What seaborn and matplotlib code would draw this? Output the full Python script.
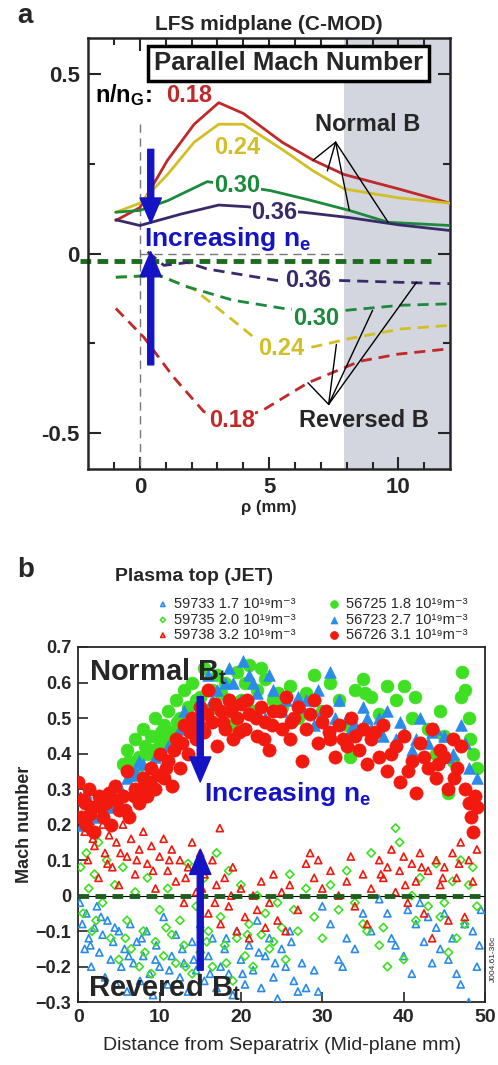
import numpy as np
import pandas as pd
import seaborn as sns
import matplotlib.pyplot as plt

# ---------------- panel a data (C-MOD, LFS midplane) ----------------
rho_n18 = [-0.93, 0.0, 1.07, 2.1, 3.05, 4.0, 5.5, 6.7, 7.9, 10.0, 12.0]
mach_n18 = [0.092, 0.128, 0.26, 0.36, 0.42, 0.39, 0.31, 0.26, 0.22, 0.18, 0.14]
rho_n24 = [-0.93, 0.0, 1.07, 2.1, 3.05, 4.0, 5.5, 6.7, 7.9, 10.0, 12.0]
mach_n24 = [0.115, 0.14, 0.22, 0.31, 0.36, 0.36, 0.29, 0.23, 0.18, 0.155, 0.14]
rho_n30 = [-0.93, 0.0, 1.07, 2.6, 3.7, 5.06, 6.5, 8.1, 9.6, 12.0]
mach_n30 = [0.115, 0.12, 0.147, 0.2, 0.19, 0.175, 0.15, 0.12, 0.087, 0.078]
rho_n36 = [-0.93, 0.0, 1.6, 3.05, 4.2, 5.1, 6.3, 8.1, 10.0, 12.0]
mach_n36 = [0.094, 0.078, 0.11, 0.135, 0.13, 0.12, 0.115, 0.1, 0.08, 0.064]

rho_r18 = [-0.93, 0.15, 1.3, 2.47, 3.5, 4.67, 6.5, 8.5, 10.0, 12.0]
mach_r18 = [-0.153, -0.233, -0.344, -0.44, -0.46, -0.44, -0.36, -0.3, -0.28, -0.265]
rho_r24 = [-0.93, 0.8, 2.1, 3.6, 4.4, 5.44, 6.7, 8.1, 10.1, 12.0]
mach_r24 = [-0.066, -0.062, -0.1, -0.186, -0.233, -0.26, -0.26, -0.237, -0.21, -0.2]
rho_r30 = [-0.93, 0.7, 1.85, 3.6, 5.56, 6.8, 8.0, 10.1, 12.0]
mach_r30 = [-0.066, -0.06, -0.093, -0.13, -0.153, -0.16, -0.158, -0.144, -0.14]
rho_r36 = [0.3, 0.93, 1.85, 2.6, 5.3, 6.5, 7.7, 10.0, 12.0]
mach_r36 = [0.005, -0.033, -0.025, -0.043, -0.075, -0.075, -0.075, -0.08, -0.084]

ratio_labels = ['0.18', '0.24', '0.30', '0.36']
curve_colors = ['#c0282a', '#d2bf25', '#1b8a3c', '#3a2a6a']

# ---------------- panel b data (JET, plasma top) ----------------
# 59733 1.7e19, reversed Bt, open triangles
d59733 = [0.2, 0.5, 0.8, 1, 1.3, 1.6, 2, 2.3, 2.6, 3, 3.3, 3.6, 4, 4.3, 4.7, 5, 5.3, 5.7, 6, 6.4,
          6.8, 7.2, 7.6, 8, 8.4, 8.8, 9.2, 9.6, 10, 10.5, 11, 11.5, 12, 12.5, 13, 13.5, 14, 14.5,
          15, 15.5, 16, 16.5, 17, 17.5, 18, 18.5, 19, 19.5, 20, 20.5, 21, 21.5, 22, 22.5, 23, 23.5,
          24, 24.5, 25, 25.5, 26, 26.5, 27, 27.5, 28, 29, 29.5, 30, 31, 32, 32.5, 33, 34, 35, 36,
          37, 38, 38.5, 39, 40, 40.5, 41, 41.5, 42, 42.5, 43, 43.5, 44, 44.5, 45, 45.5, 46, 46.5,
          47, 47.5, 48, 48.5, 49, 49.3, 49.5,
          1.5, 2.8, 4.5, 6.2, 7.8, 9.5, 11.2, 12.8, 14.2, 16.2, 18.2, 20.2, 22.2, 24.2, 26.2]
m59733 = [-0.02, -0.08, -0.15, -0.05, -0.12, -0.2, -0.09, -0.03, -0.16, -0.11, -0.23, -0.07,
          -0.18, -0.13, -0.25, -0.1, -0.2, -0.15, -0.27, -0.08, -0.19, -0.13, -0.24, -0.17, -0.1,
          -0.22, -0.28, -0.14, -0.2, -0.06, -0.25, -0.17, -0.11, -0.23, -0.19, -0.27, -0.13, -0.21,
          -0.08, -0.24, -0.17, -0.12, -0.26, -0.2, -0.15, -0.22, -0.28, -0.1, -0.18, -0.25, -0.14,
          -0.21, -0.07, -0.26, -0.17, -0.12, -0.23, -0.29, -0.15, -0.2, -0.1, -0.24, -0.27, -0.19,
          -0.26, -0.21, -0.27, -0.03, -0.08, -0.18, -0.2, -0.12, -0.15, -0.05, -0.1, -0.01, -0.05,
          -0.12, -0.14, -0.17, -0.04, -0.22, -0.08, -0.02, -0.13, -0.06, -0.19, -0.09, -0.15,
          -0.05, -0.18, -0.12, -0.22, -0.25, -0.08, -0.3, -0.1, -0.2, -0.14, -0.04,
          -0.14, -0.06, -0.09, -0.17, -0.12, -0.18, -0.21, -0.15, -0.18, -0.22, -0.12, -0.22,
          -0.16, -0.19, -0.13]
# 59735 2.0e19, reversed Bt, open diamonds
d59735 = [0.3, 0.6, 1, 1.3, 1.7, 2, 2.5, 3, 3.5, 4, 4.5, 5, 5.5, 6, 6.5, 7, 7.5, 8, 8.5, 9, 9.5,
          10, 10.5, 11, 11.5, 12, 12.5, 13, 13.5, 14, 14.5, 15, 15.5, 16, 16.5, 17, 17.5, 18, 18.5,
          19, 19.5, 20, 20.5, 21, 21.5, 22, 22.5, 23, 24, 24.5, 25, 25.5, 26, 26.5, 27, 28, 29, 30,
          31, 32, 33, 34, 35, 35.5, 36, 37, 37.5, 38, 39, 39.5, 40, 41, 41.5, 42, 43, 44, 44.5, 45,
          45.5, 46, 46.5, 47, 47.5, 48, 48.5, 49,
          2.2, 5.8, 8.2, 10.8, 13.2, 15.8, 18.2, 20.8, 23.5]
m59735 = [0.08, -0.05, 0.12, 0.02, -0.1, 0.06, 0.15, -0.02, 0.1, -0.12, 0.03, -0.18, 0.08, -0.07,
          -0.15, 0.01, -0.2, -0.1, 0.05, -0.22, -0.13, -0.04, -0.17, 0.02, -0.11, -0.19, -0.07,
          -0.14, 0.09, -0.22, -0.03, -0.16, 0.05, -0.1, -0.2, 0.12, -0.06, -0.14, 0.07, -0.24, -0.12,
          0.03, -0.17, -0.08, -0.2, 0.0, -0.11, -0.05, -0.13, -0.02, -0.09, -0.18, 0.06, -0.04, -0.1,
          0.02, -0.06, -0.12, 0.03, -0.04, 0.07, -0.02, -0.08, -0.1, 0.12, -0.14, -0.09, -0.2, 0.19,
          0.15, -0.18, 0.0, -0.07, 0.05, -0.03, 0.09, -0.06, -0.02, -0.16, 0.04, -0.12, 0.1, -0.08,
          0.03, 0.08, -0.03,
          -0.07, -0.12, -0.16, -0.09, -0.2, -0.13, -0.19, -0.11, -0.15]
# 59738 3.2e19, reversed Bt, open triangles
d59738 = [0.3, 0.8, 1.2, 1.5, 2, 2.5, 3, 3.3, 3.8, 4.2, 4.7, 5, 5.5, 6, 6.5, 7, 7.5, 8, 8.5, 9,
          9.5, 10, 10.5, 11, 11.5, 12, 12.5, 13, 13.5, 14, 14.5, 15, 15.5, 16, 16.5, 17, 17.4, 17.5,
          18, 18.5, 19, 19.5, 20, 20.5, 21, 21.5, 22, 22.5, 23, 23.5, 24, 24.5, 25, 25.5, 26, 27,
          28, 28.5, 29, 29.5, 30, 31, 32, 33, 33.5, 34, 35, 35.5, 36, 37, 37.5, 38, 38.5, 39, 39.5,
          40, 40.5, 41, 41.5, 42, 42.5, 43, 43.5, 44, 44.5, 45, 45.5, 46, 46.5, 47, 47.5, 48, 48.5,
          49,
          1.8, 3.6, 5.2, 7.2, 9.2, 11.2, 13.2, 15.2, 16.8, 18.8, 37.2, 40.2, 42.2, 44.8, 46.8]
m59738 = [0.28, 0.18, 0.1, 0.21, 0.14, 0.05, 0.2, 0.12, 0.17, 0.08, 0.15, 0.03, 0.2, 0.11, 0.16,
          0.06, 0.13, 0.18, 0.09, 0.14, 0.02, 0.11, 0.16, 0.07, 0.13, 0.04, 0.1, -0.02, 0.08, 0.15,
          0.01, 0.12, 0.06, -0.05, 0.1, 0.03, 0.19, -0.08, 0.05, -0.03, 0.08, -0.1, 0.02, -0.06,
          -0.12, 0.0, -0.04, 0.04, -0.09, -0.02, 0.06, -0.07, 0.01, -0.1, 0.03, -0.04, 0.09, 0.12,
          0.05, 0.1, 0.02, 0.07, 0.0, 0.04, 0.11, -0.03, 0.06, -0.08, 0.02, 0.1, 0.05, 0.08, 0.13,
          0.01, 0.07, 0.11, -0.02, 0.09, 0.04, 0.12, -0.05, 0.07, -0.12, 0.1, 0.03, 0.08, -0.07,
          0.12, 0.05, 0.15, -0.06, 0.1, 0.04, 0.13,
          0.16, 0.09, 0.12, 0.1, 0.07, 0.1, 0.05, 0.02, -0.02, 0.0, 0.06, 0.03, 0.08, 0.05, 0.09]
# 56725 1.8e19, normal Bt, filled circles
d56725 = [5.5, 6, 6.5, 7, 7.5, 8, 8.5, 9, 9.5, 10, 10.5, 11, 11.5, 12, 12.5, 13, 13.5, 14, 15,
          15.5, 16, 17, 17.5, 18, 19, 19.5, 20, 21, 21.5, 22, 23, 24, 25, 26, 27, 28, 29, 30, 31,
          32, 33, 33.4, 34, 35, 35.3, 36, 37, 38, 39, 40, 41, 41.4, 42, 43, 44, 44.5, 45, 45.5, 46,
          47, 47.2, 47.5, 48, 48.2, 48.5, 49,
          6.2, 7.2, 8.2, 9.2, 10.2, 11.2, 12.2, 13.2, 14.5, 16.5, 18.5, 20.5, 22.5, 24.5]
m56725 = [0.37, 0.41, 0.34, 0.44, 0.39, 0.47, 0.4, 0.45, 0.5, 0.43, 0.48, 0.52, 0.46, 0.55, 0.5,
          0.58, 0.53, 0.6, 0.56, 0.64, 0.52, 0.62, 0.57, 0.6, 0.48, 0.63, 0.55, 0.65, 0.52, 0.58,
          0.61, 0.55, 0.53, 0.59, 0.5, 0.57, 0.62, 0.52, 0.6, 0.55, 0.48, 0.39, 0.58, 0.61, 0.57,
          0.56, 0.51, 0.59, 0.55, 0.59, 0.5, 0.56, 0.43, 0.47, 0.4, 0.52, 0.45, 0.29, 0.38, 0.56,
          0.63, 0.58, 0.5, 0.44, 0.4, 0.36,
          0.38, 0.36, 0.42, 0.41, 0.46, 0.44, 0.49, 0.5, 0.55, 0.58, 0.55, 0.6, 0.64, 0.57]
# 56723 2.7e19, normal Bt, filled triangles
d56723 = [0.5, 1, 1.5, 2, 3, 4, 6, 7, 8, 9, 10, 11, 12, 13, 14, 15, 16, 17, 18, 19, 20, 20.3, 21,
          22, 23, 24, 25, 26, 27, 28, 29, 30, 31, 32, 33, 34, 35, 36, 37, 38, 39, 40, 41, 42, 43,
          44, 45, 46, 47, 48, 49,
          5, 6.5, 7.5, 8.5, 9.5, 10.5, 12.5, 14.5, 16.5, 18.5, 21.5, 23.5, 25.5, 27.5, 29.5, 31.5,
          33.5, 35.5, 37.5, 39.5, 41.5, 43.5, 45.5, 47.5]
m56723 = [0.2, 0.29, 0.3, 0.22, 0.27, 0.25, 0.33, 0.35, 0.37, 0.36, 0.34, 0.42, 0.45, 0.52, 0.48,
          0.55, 0.62, 0.58, 0.6, 0.6, 0.55, 0.66, 0.62, 0.57, 0.5, 0.58, 0.52, 0.5, 0.56, 0.55,
          0.48, 0.52, 0.63, 0.55, 0.5, 0.48, 0.53, 0.47, 0.5, 0.52, 0.44, 0.46, 0.41, 0.5, 0.43,
          0.47, 0.45, 0.4, 0.48, 0.36, 0.33,
          0.31, 0.34, 0.38, 0.33, 0.39, 0.4, 0.47, 0.5, 0.55, 0.64, 0.6, 0.62, 0.55, 0.53, 0.58,
          0.5, 0.47, 0.5, 0.45, 0.49, 0.44, 0.46, 0.39, 0.43]
# 56726 3.1e19, normal Bt, filled circles
d56726 = [0, 0.3, 0.6, 1, 1.3, 1.8, 2, 2.5, 3, 3.4, 4, 4.5, 5, 5.5, 6, 6.3, 7, 7.5, 8, 8.5, 9,
          9.5, 10, 10.5, 11, 11.5, 12, 12.5, 13, 13.5, 14, 14.5, 15, 15.5, 16, 16.5, 17, 17.5, 18,
          18.5, 19, 19.5, 20, 20.5, 21, 22, 22.5, 23, 23.5, 24, 25, 25.5, 26, 26.5, 27, 27.5, 28,
          29, 29.5, 30, 30.5, 31, 31.5, 32, 33, 33.5, 34, 35, 35.5, 36, 37, 37.5, 38, 39, 39.5, 40,
          41, 41.5, 42, 43, 43.5, 44, 44.5, 45, 45.5, 46, 46.5, 47, 47.5, 48, 48.3, 48.5, 48.8, 49,
          0.8, 1.5, 2.8, 3.8, 4.8, 5.8, 6.8, 7.8, 8.8, 9.8, 10.8, 11.8, 12.8, 13.8, 14.8, 15.8,
          16.8, 17.8, 18.8, 19.8, 20.8, 21.8, 22.8, 23.8, 24.8, 26.2, 28.5, 30.8, 32.5, 34.5,
          36.5, 38.5, 40.5, 42.5, 44.2, 46.2]
m56726 = [0.32, 0.22, 0.27, 0.2, 0.3, 0.25, 0.18, 0.28, 0.22, 0.26, 0.2, 0.31, 0.24, 0.28, 0.35,
          0.22, 0.3, 0.26, 0.33, 0.28, 0.36, 0.3, 0.4, 0.33, 0.38, 0.31, 0.44, 0.36, 0.48, 0.4,
          0.5, 0.44, 0.53, 0.46, 0.58, 0.49, 0.42, 0.52, 0.47, 0.55, 0.44, 0.5, 0.54, 0.47, 0.51,
          0.45, 0.53, 0.49, 0.41, 0.52, 0.47, 0.56, 0.44, 0.5, 0.53, 0.38, 0.47, 0.55, 0.43, 0.49,
          0.52, 0.44, 0.39, 0.48, 0.42, 0.5, 0.45, 0.47, 0.37, 0.44, 0.39, 0.48, 0.35, 0.42, 0.32,
          0.45, 0.38, 0.29, 0.43, 0.36, 0.47, 0.33, 0.41, 0.39, 0.3, 0.44, 0.36, 0.42, 0.3, 0.26,
          0.22, 0.18, 0.28, 0.25,
          0.26, 0.23, 0.25, 0.29, 0.27, 0.24, 0.28, 0.3, 0.32, 0.34, 0.36, 0.41, 0.43, 0.46, 0.48,
          0.51, 0.54, 0.49, 0.52, 0.46, 0.55, 0.5, 0.44, 0.48, 0.52, 0.49, 0.51, 0.46, 0.44, 0.41,
          0.46, 0.4, 0.35, 0.39, 0.37, 0.33]

jet_labels = ['59733 1.7 10¹⁹m⁻³', '59735 2.0 10¹⁹m⁻³', '59738 3.2 10¹⁹m⁻³',
              '56725 1.8 10¹⁹m⁻³', '56723 2.7 10¹⁹m⁻³', '56726 3.1 10¹⁹m⁻³']

sns.set_style('ticks')
plt.rcParams['font.family'] = ['Liberation Sans', 'DejaVu Sans']
plt.rcParams['mathtext.fontset'] = 'custom'
plt.rcParams['mathtext.rm'] = 'Liberation Sans'
plt.rcParams['mathtext.bf'] = 'Liberation Sans:bold'
plt.rcParams['mathtext.it'] = 'Liberation Sans:italic'

fig = plt.figure(figsize=(4.98, 10.65), dpi=100)

# ======================= panel a =======================
ax = fig.add_axes([0.177, 0.5596, 0.727, 0.4047])
ax.axvspan(7.9, 12, color='#d3d6de', lw=0, zorder=0)
ax.plot([0, 0], [0.36, -0.6], color='#777777', lw=1, ls=(0, (6, 4)), zorder=1)
ax.plot([0, 7.9], [0, 0], color='#777777', lw=1, ls=(0, (6, 4)), zorder=1)
ax.plot([-2.3, 11.5], [-0.02, -0.02], color='#1d6b1d', lw=3.5, ls=(0, (2.2, 1.3)),
        zorder=2, clip_on=False)

normal = [(rho_n18, mach_n18), (rho_n24, mach_n24), (rho_n30, mach_n30), (rho_n36, mach_n36)]
reversed_ = [(rho_r18, mach_r18), (rho_r24, mach_r24), (rho_r30, mach_r30), (rho_r36, mach_r36)]
for (xs, ys), c in zip(normal, curve_colors):
    sns.lineplot(x=xs, y=ys, color=c, lw=2, ax=ax, zorder=3)
for (xs, ys), c in zip(reversed_, curve_colors):
    sns.lineplot(x=xs, y=ys, color=c, lw=2, ax=ax, zorder=3, linestyle=(0, (4, 2.5)))

lab_kw = dict(fontsize=17, fontweight='bold', ha='center', va='center', zorder=5)
gap = dict(facecolor='white', edgecolor='none', pad=0.5)
ax.text(-1.75, 0.44, r'n/n$_\mathbf{G}$:', color='black', ha='left', va='center',
        fontsize=17, fontweight='bold')
ax.text(1.0, 0.44, ratio_labels[0], color=curve_colors[0], ha='left', va='center',
        fontsize=17, fontweight='bold')
ax.text(3.75, 0.295, ratio_labels[1], color=curve_colors[1], **lab_kw)
ax.text(3.75, 0.19, ratio_labels[2], color=curve_colors[2], bbox=gap, **lab_kw)
ax.text(5.2, 0.115, ratio_labels[3], color=curve_colors[3], bbox=gap, **lab_kw)
ax.text(6.5, -0.075, ratio_labels[3], color=curve_colors[3], bbox=gap, **lab_kw)
ax.text(6.8, -0.18, ratio_labels[2], color=curve_colors[2], bbox=gap, **lab_kw)
ax.text(5.45, -0.265, ratio_labels[1], color=curve_colors[1], bbox=gap, **lab_kw)
ax.text(3.55, -0.465, ratio_labels[0], color=curve_colors[0], bbox=gap, **lab_kw)

ax.text(5.75, 0.53, 'Parallel Mach Number', fontsize=18.5, fontweight='bold', ha='center',
        va='center', zorder=6,
        bbox=dict(facecolor='white', edgecolor='black', lw=2.5, pad=4))

ax.text(8.8, 0.36, 'Normal B', fontsize=17, fontweight='bold', ha='center', va='center')
for tx, ty in [(6.7, 0.26), (7.25, 0.23), (8.1, 0.12), (9.6, 0.087)]:
    ax.annotate('', xy=(tx, ty), xytext=(7.57, 0.31),
                arrowprops=dict(arrowstyle='-', color='black', lw=1, shrinkA=0, shrinkB=0))
ax.text(8.65, -0.465, 'Reversed B', fontsize=17, fontweight='bold', ha='center', va='center')
for tx, ty in [(6.5, -0.36), (7.6, -0.253), (9.0, -0.158), (10.7, -0.08)]:
    ax.annotate('', xy=(tx, ty), xytext=(7.3, -0.42),
                arrowprops=dict(arrowstyle='-', color='black', lw=1, shrinkA=0, shrinkB=0))

arrow_blue = '#1414c4'
head = 'simple,head_width=0.85,head_length=1.0,tail_width=0.24'
ax.annotate('', xy=(0.42, 0.085), xytext=(0.42, 0.29),
            arrowprops=dict(arrowstyle=head, color=arrow_blue, shrinkA=0, shrinkB=0,
                            mutation_scale=18), zorder=6)
ax.annotate('', xy=(0.42, 0.005), xytext=(0.42, -0.31),
            arrowprops=dict(arrowstyle=head, color=arrow_blue, shrinkA=0, shrinkB=0,
                            mutation_scale=18), zorder=6)
ax.text(0.15, 0.04, r'Increasing n$_\mathbf{e}$', color=arrow_blue, fontsize=19,
        fontweight='bold', ha='left', va='center', zorder=6)

ax.set_xlim(-2, 12)
ax.set_ylim(-0.6, 0.6)
ax.set_xticks([0, 5, 10])
ax.set_xticks(np.arange(-1, 12, 1), minor=True)
ax.set_yticks([-0.5, 0, 0.5])
ax.set_yticklabels(['-0.5', '0', '0.5'])
ax.set_yticks([-0.25, 0.25], minor=True)
ax.tick_params(which='both', direction='in', top=True, right=True, width=1.5)
ax.tick_params(which='major', length=9, labelsize=16, pad=6)
ax.tick_params(which='minor', length=5)
for lab in ax.get_xticklabels() + ax.get_yticklabels():
    lab.set_fontweight('bold')
for s in ax.spines.values():
    s.set_linewidth(1.8)
ax.set_xlabel('ρ (mm)', fontsize=12, fontweight='bold', labelpad=1)
ax.set_ylabel('')
ax.set_title('LFS midplane (C-MOD)', fontsize=15, fontweight='bold', pad=6)
fig.text(0.035, 0.985, 'a', fontsize=20, fontweight='bold', ha='left', va='center')

# ======================= panel b =======================
bx = fig.add_axes([0.157, 0.059, 0.817, 0.3335])
c_blue, c_green, c_red = '#2a8ce8', '#3fe023', '#f2190f'
open_kw = dict(s=26, linewidth=1.2, facecolors='none', ax=bx, zorder=3)
sns.scatterplot(x=d59733, y=m59733, marker='^', edgecolor=c_blue, label=jet_labels[0], **open_kw)
sns.scatterplot(x=d59735, y=m59735, marker='D', edgecolor=c_green, label=jet_labels[1],
                **{**open_kw, 's': 18})
sns.scatterplot(x=d59738, y=m59738, marker='^', edgecolor=c_red, label=jet_labels[2], **open_kw)
fill_kw = dict(linewidth=0.5, ax=bx, zorder=4)
sns.scatterplot(x=d56725, y=m56725, marker='o', color=c_green, edgecolor=c_green, s=85,
                label=jet_labels[3], **fill_kw)
sns.scatterplot(x=d56723, y=m56723, marker='^', color=c_blue, edgecolor=c_blue, s=70,
                label=jet_labels[4], **fill_kw)
sns.scatterplot(x=d56726, y=m56726, marker='o', color=c_red, edgecolor=c_red, s=90,
                label=jet_labels[5], **fill_kw)

bx.axhline(0, color='black', lw=0.8, zorder=2)
bx.plot([0, 50], [0, 0], color='#1d5e1d', lw=3.5, ls=(0, (2.2, 1.3)), zorder=5)

bx.annotate('', xy=(15.0, 0.32), xytext=(15.0, 0.56),
            arrowprops=dict(arrowstyle=head, color=arrow_blue, shrinkA=0, shrinkB=0,
                            mutation_scale=18), zorder=7)
bx.annotate('', xy=(15.0, 0.13), xytext=(15.0, -0.21),
            arrowprops=dict(arrowstyle=head, color=arrow_blue, shrinkA=0, shrinkB=0,
                            mutation_scale=18), zorder=7)
bx.text(15.4, 0.285, r'Increasing n$_\mathbf{e}$', color=arrow_blue, fontsize=19,
        fontweight='bold', ha='left', va='center', zorder=8)
bx.text(1.3, 0.63, r'Normal B$_\mathbf{t}$', fontsize=21, fontweight='bold', ha='left',
        va='center', zorder=8)
bx.text(1.2, -0.26, r'Revered B$_\mathbf{t}$', fontsize=21, fontweight='bold', ha='left',
        va='center', zorder=8)

bx.set_xlim(0, 50)
bx.set_ylim(-0.3, 0.7)
bx.set_xticks([0, 10, 20, 30, 40, 50])
bx.set_yticks(np.round(np.arange(-0.3, 0.71, 0.1), 1))
bx.set_yticklabels(['\u22120.3', '\u22120.2', '\u22120.1', '0', '0.1', '0.2', '0.3', '0.4',
                    '0.5', '0.6', '0.7'])
bx.tick_params(direction='in', length=7, width=1.2, labelsize=13, pad=5)
bx.tick_params(axis='x', labelsize=14)
for lab in bx.get_xticklabels() + bx.get_yticklabels():
    lab.set_fontweight('bold')
for s in bx.spines.values():
    s.set_linewidth(1.3)
bx.set_xlabel('Distance from Separatrix (Mid-plane mm)', fontsize=14, labelpad=8)
bx.set_ylabel('Mach number', fontsize=13, fontweight='bold', labelpad=2)

handles, labels = bx.get_legend_handles_labels()
bx.legend(handles, labels, ncol=2, frameon=False, fontsize=10.5, loc='lower left',
          bbox_to_anchor=(0.165, 0.985), handletextpad=0.3, columnspacing=2.1,
          labelspacing=0.1, markerscale=0.6, borderaxespad=0.3, handlelength=1.0)

fig.text(0.035, 0.465, 'b', fontsize=20, fontweight='bold', ha='left', va='center')
fig.text(0.39, 0.459, 'Plasma top (JET)', fontsize=14, fontweight='bold', ha='center',
         va='center')
fig.text(0.99, 0.1, 'J004.61-36c', fontsize=6, rotation=90, ha='center', va='center')

fig.savefig('out.png', dpi=100)
